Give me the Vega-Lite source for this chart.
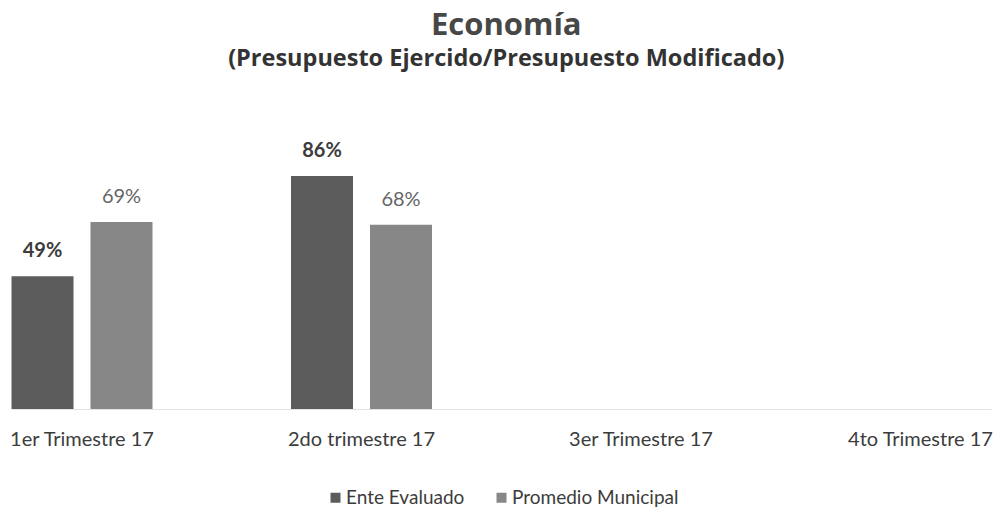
{
  "$schema": "https://vega.github.io/schema/vega-lite/v6.json",
  "width": 979.5,
  "height": 271,
  "autosize": {"type": "none"},
  "padding": {"left": 11.5, "top": 138, "right": 4, "bottom": 108},
  "background": "white",
  "title": {
    "text": "Economía",
    "subtitle": "(Presupuesto Ejercido/Presupuesto Modificado)",
    "anchor": "middle",
    "frame": "group",
    "offset": 67,
    "dx": 5,
    "font": "Open Sans",
    "fontSize": 31,
    "fontWeight": "bold",
    "color": "#474747",
    "subtitleFont": "Open Sans",
    "subtitleFontSize": 23.5,
    "subtitleFontWeight": "bold",
    "subtitleColor": "#333333",
    "subtitlePadding": 5
  },
  "data": {
    "values": [
      {"trimestre": "1er Trimestre 17", "serie": "Ente Evaluado", "valor": 0.49},
      {"trimestre": "1er Trimestre 17", "serie": "Promedio Municipal", "valor": 0.69},
      {"trimestre": "2do trimestre 17", "serie": "Ente Evaluado", "valor": 0.86},
      {"trimestre": "2do trimestre 17", "serie": "Promedio Municipal", "valor": 0.68}
    ]
  },
  "encoding": {
    "x": {
      "field": "trimestre",
      "type": "nominal",
      "sort": null,
      "scale": {
        "domain": ["1er Trimestre 17", "2do trimestre 17", "3er Trimestre 17", "4to Trimestre 17"],
        "paddingInner": 0.4955,
        "paddingOuter": 0
      },
      "axis": {
        "title": null,
        "labelAngle": 0,
        "ticks": false,
        "tickSize": 0,
        "labelPadding": 36,
        "labelBaseline": "alphabetic",
        "labelFont": "Lato",
        "labelFontSize": 20,
        "labelColor": "#3c3c3c",
        "domainColor": "#e3e3e3",
        "domainWidth": 1,
        "grid": false
      }
    },
    "xOffset": {
      "field": "serie",
      "type": "nominal",
      "scale": {"paddingInner": 0.215, "paddingOuter": 0}
    },
    "y": {
      "field": "valor",
      "type": "quantitative",
      "scale": {"domain": [0, 1], "nice": false},
      "axis": null
    }
  },
  "layer": [
    {
      "mark": {"type": "bar"},
      "encoding": {
        "color": {
          "field": "serie",
          "type": "nominal",
          "scale": {"domain": ["Ente Evaluado", "Promedio Municipal"], "range": ["#5c5c5c", "#878787"]},
          "legend": {
            "title": null,
            "orient": "none",
            "direction": "horizontal",
            "legendX": 314.5,
            "legendY": 350,
            "padding": 0,
            "symbolType": "square",
            "symbolSize": 100,
            "symbolStrokeWidth": 0,
            "labelFont": "Lato",
            "labelFontSize": 19,
            "labelColor": "#3c3c3c",
            "labelOffset": 1,
            "labelLimit": 400,
            "columnPadding": 27
          }
        }
      }
    },
    {
      "transform": [{"filter": "datum.serie === 'Ente Evaluado'"}],
      "mark": {"type": "text", "baseline": "alphabetic", "dy": -19, "font": "Lato", "fontSize": 20, "fontWeight": "bold", "color": "#3c3c3c"},
      "encoding": {"text": {"field": "valor", "type": "quantitative", "format": ".0%"}}
    },
    {
      "transform": [{"filter": "datum.serie === 'Promedio Municipal'"}],
      "mark": {"type": "text", "baseline": "alphabetic", "dy": -19, "font": "Lato", "fontSize": 20, "fontWeight": "normal", "color": "#666666"},
      "encoding": {"text": {"field": "valor", "type": "quantitative", "format": ".0%"}}
    }
  ],
  "config": {"view": {"stroke": null}}
}
